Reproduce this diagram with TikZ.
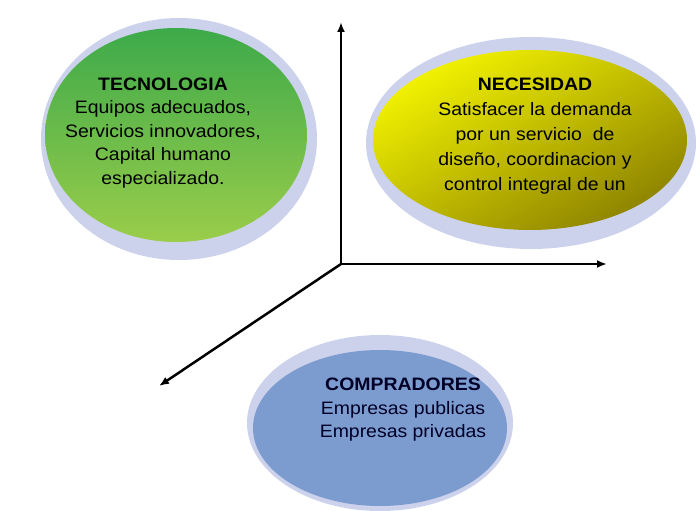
\documentclass[tikz,border=0pt]{standalone}
\usepackage{fontspec}
\setmainfont{Liberation Sans}
\usetikzlibrary{arrows.meta, shapes.geometric}
\definecolor{haloC}{HTML}{CDD2EC}
\definecolor{greenTop}{HTML}{3DAA4A}
\definecolor{greenBot}{HTML}{9ACD4A}
\definecolor{yelLight}{HTML}{F2F200}
\definecolor{yelDark}{HTML}{8E8400}
\definecolor{buyBlue}{HTML}{7C9BCF}

\tikzset{
  halo/.style={ellipse, inner sep=0pt, fill=haloC},
  blob/.style={ellipse, inner sep=0pt},
  blobtext/.style={align=center, font=\fontsize{18}{23.5}\selectfont\addfontfeature{FakeStretch=1.08}},
  axis/.style={line width=2.5pt, -{Latex[length=10pt,width=8pt]}}
}

\begin{document}
\begin{tikzpicture}[x=1pt, y=-1pt]
    \useasboundingbox (0,0) rectangle (697,511);
    % halos behind the three ellipses
    \node[halo, minimum width=276pt, minimum height=242pt] (tecHalo) at (179,139) {};
    \node[halo, minimum width=330pt, minimum height=212pt] (necHalo) at (531,143) {};
    \node[halo, minimum width=266pt, minimum height=176pt] (comHalo) at (380,423) {};
    % coloured ellipses
    \node[blob, minimum width=262pt, minimum height=214pt,
          top color=greenTop, bottom color=greenBot] (tec) at (176,135) {};
    \node[blob, minimum width=314pt, minimum height=180pt,
          top color=yelLight, bottom color=yelDark, shading angle=30] (nec) at (530,140) {};
    \node[blob, minimum width=254pt, minimum height=156pt, fill=buyBlue] (com) at (380,428) {};
    % texts
    \node[blobtext] (tecText) at (163,133)
      {\textbf{TECNOLOGIA}\\Equipos adecuados,\\Servicios innovadores,\\Capital humano\\especializado.};
    \node[blobtext, font=\fontsize{18}{25}\selectfont\addfontfeature{FakeStretch=1.08}] (necText) at (535,136)
      {\textbf{NECESIDAD}\\Satisfacer la demanda\\por un servicio\ \ de\\dise\~no, coordinacion y\\control integral de un};
    \node[blobtext, text=black!85!blue] (comText) at (403,410)
      {\textbf{COMPRADORES}\\Empresas publicas\\Empresas privadas};
    % axes
    \coordinate (origin) at (341,264);
    \coordinate (upTip) at (341,22);
    \coordinate (rightTip) at (607,264);
    \coordinate (diagTip) at (159,386);
    \draw[axis] (origin) -- (upTip);
    \draw[axis] (origin) -- (rightTip);
    \draw[axis] (origin) -- (diagTip);
\end{tikzpicture}
\end{document}
